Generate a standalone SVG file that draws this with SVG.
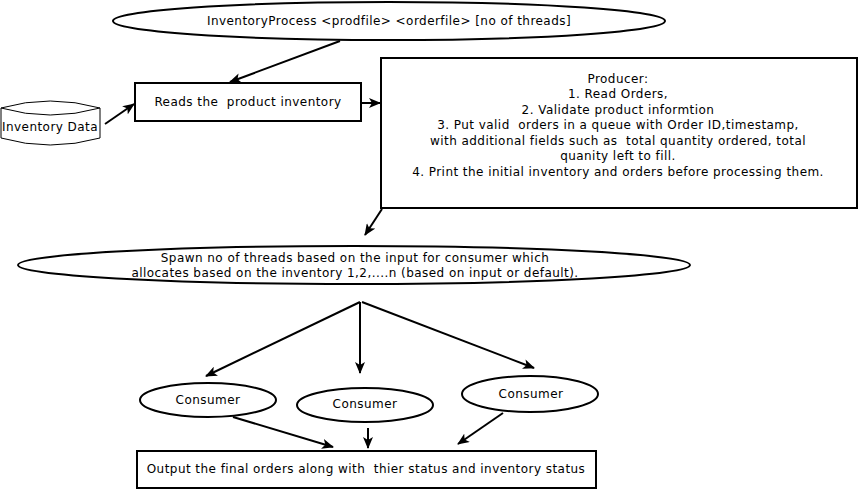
<svg xmlns="http://www.w3.org/2000/svg" width="859" height="491" viewBox="0 0 859 491">
<defs>
<marker id="ah" markerWidth="12" markerHeight="10" refX="11" refY="5" orient="auto" markerUnits="userSpaceOnUse">
<path d="M0,0 L12,5 L0,10 L3,5 Z" fill="#000"/>
</marker>
<style>
.shape{fill:#fff;stroke:#000;stroke-width:2}
.drum{fill:#fff;stroke:#000;stroke-width:1}
.t{font-family:"DejaVu Sans",sans-serif;font-size:12px;letter-spacing:0.45px;fill:#000;text-anchor:middle;white-space:pre}
.c{stroke:#000;stroke-width:2;fill:none;marker-end:url(#ah)}
</style>
</defs>
<rect width="859" height="491" fill="#fff"/>
<g id="connectors">
<line class="c" x1="340" y1="41" x2="230" y2="82"/>
<line class="c" x1="105" y1="124" x2="134" y2="104"/>
<line class="c" x1="361" y1="103" x2="380" y2="103"/>
<line class="c" x1="382" y1="209" x2="365" y2="235"/>
<line class="c" x1="360" y1="302" x2="206" y2="376"/>
<line class="c" x1="360" y1="302" x2="360" y2="373"/>
<line class="c" x1="362" y1="302" x2="534" y2="368"/>
<line class="c" x1="233" y1="417" x2="333" y2="447"/>
<line class="c" x1="368" y1="428" x2="368" y2="448"/>
<line class="c" x1="503" y1="413" x2="458" y2="444"/>
</g>
<g id="start">
<ellipse class="shape" cx="389" cy="21" rx="276" ry="19"/>
<text class="t" x="389" y="25">InventoryProcess &lt;prodfile&gt; &lt;orderfile&gt; [no of threads]</text>
</g>
<g id="inventory-data">
<path class="drum" d="M1,108 Q50,94 100,108 L100,138 Q50,152 1,138 Z"/>
<path class="drum" d="M1,108 Q50,122 100,108"/>
<text class="t" x="50" y="131">Inventory Data</text>
</g>
<g id="reads">
<rect class="shape" x="135" y="83" width="226" height="38"/>
<text class="t" x="248" y="106">Reads the  product inventory</text>
</g>
<g id="producer">
<rect class="shape" x="381" y="58" width="476" height="150"/>
<text class="t" x="618" y="83">Producer:</text>
<text class="t" x="618" y="98">1. Read Orders,</text>
<text class="t" x="618" y="114">2. Validate product informtion</text>
<text class="t" x="618" y="129">3. Put valid  orders in a queue with Order ID,timestamp,</text>
<text class="t" x="618" y="145">with additional fields such as  total quantity ordered, total</text>
<text class="t" x="618" y="160">quanity left to fill.</text>
<text class="t" x="618" y="176">4. Print the initial inventory and orders before processing them.</text>
</g>
<g id="spawn">
<ellipse class="shape" cx="354" cy="265" rx="336" ry="19"/>
<text class="t" x="355" y="262">Spawn no of threads based on the input for consumer which</text>
<text class="t" x="355" y="277">allocates based on the inventory 1,2,....n (based on input or default).</text>
</g>
<g id="consumer1">
<ellipse class="shape" cx="208" cy="400" rx="68" ry="17"/>
<text class="t" x="208" y="404">Consumer</text>
</g>
<g id="consumer2">
<ellipse class="shape" cx="365" cy="405" rx="68" ry="17"/>
<text class="t" x="365" y="408">Consumer</text>
</g>
<g id="consumer3">
<ellipse class="shape" cx="530" cy="394" rx="68" ry="18"/>
<text class="t" x="531" y="398">Consumer</text>
</g>
<g id="output">
<rect class="shape" x="137" y="451" width="459" height="37"/>
<text class="t" x="366" y="473">Output the final orders along with  thier status and inventory status</text>
</g>
</svg>
